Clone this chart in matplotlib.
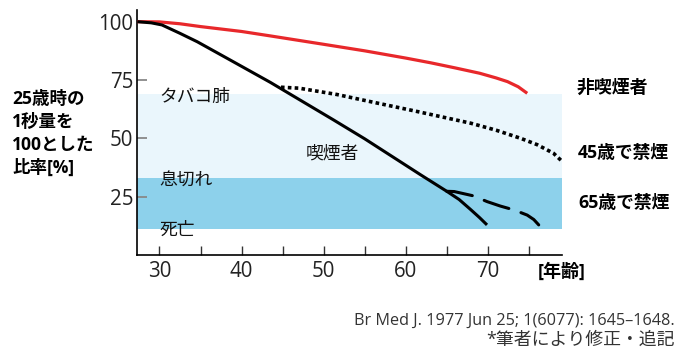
import matplotlib
matplotlib.use("Agg")
import matplotlib.pyplot as plt

# ---- data ----
nonsmoker_age = [27.3, 30, 32.5, 35, 40, 43.5, 50, 55, 60, 63, 66, 69, 71, 72.4, 73.7, 74.8]
nonsmoker_val = [100, 99.9, 99.1, 97.9, 95.8, 93.9, 90.3, 87.5, 84.4, 82.4, 80.2, 77.9, 75.9, 74.3, 72.1, 69.3]

smoker_age = [27.3, 29, 30.3, 32.5, 34.6, 38.6, 43.5, 51.2, 55, 61.8, 65, 66.5, 67.9, 69, 69.9]
smoker_val = [100, 99.5, 98.6, 95, 91.4, 83.6, 74.0, 57.9, 49.8, 34.4, 27.3, 23.8, 19.5, 16, 12.9]

quit45_age = [44.8, 47, 51.6, 56, 61.4, 67.9, 71, 74, 76, 78, 79.3]
quit45_val = [71.9, 71.5, 68.8, 65.5, 61.5, 56.5, 53.5, 50.0, 47.3, 43.6, 39.3]

quit65_age = [65, 65.9, 68.3, 69.9, 71.5, 73.2, 74.8, 75.6, 76.2]
quit65_val = [27.3, 27.2, 25.3, 22.9, 21.0, 19.3, 17.1, 15.2, 12.9]

band_light = (33, 69)
band_dark = (11, 33)

xticks_major = [30, 40, 50, 60, 70]
xticks_minor = [35, 45, 55, 65, 75]
yticks = [25, 50, 75, 100]

JP = ['Noto Sans CJK JP', 'DejaVu Sans']
NUM = ['Open Sans', 'Noto Sans CJK JP', 'DejaVu Sans']
plt.rcParams['font.family'] = NUM

fig = plt.figure(figsize=(6.77, 3.51), dpi=100)
ax = fig.add_axes([0.2028, 0.2735, 0.6269, 0.698])
ax.set_xlim(27.3, 79.0)
ax.set_ylim(0, 105)

ax.axhspan(band_light[0], band_light[1], color='#EAF6FC', lw=0, zorder=0)
ax.axhspan(band_dark[0], band_dark[1], color='#8DD1EB', lw=0, zorder=0)

ax.plot(nonsmoker_age, nonsmoker_val, color='#E8282B', lw=2.3, solid_capstyle='butt', zorder=3)
ax.plot(smoker_age, smoker_val, color='black', lw=2.2, solid_capstyle='butt', zorder=3)
ax.plot(quit45_age, quit45_val, color='black', lw=2.6, linestyle=(0, (1, 0.9)),
        dash_capstyle='butt', zorder=3)
ax.plot(quit65_age, quit65_val, color='black', lw=2.2, linestyle=(0, (8.5, 4.2)),
        dash_capstyle='round', zorder=3)

for s in ['top', 'right']:
    ax.spines[s].set_visible(False)
for s in ['left', 'bottom']:
    ax.spines[s].set_linewidth(1.2)
    ax.spines[s].set_color('black')

ax.set_xticks(xticks_major)
ax.set_xticks(xticks_minor, minor=True)
ax.set_xticklabels([str(v) for v in xticks_major])
ax.set_yticks(yticks)
ax.set_yticklabels([str(v) for v in yticks])
ax.tick_params(axis='x', which='both', direction='in', length=6.5, width=1.0,
               color='#333333', labelsize=14.8, labelcolor='#222222', pad=4.5)
ax.tick_params(axis='y', direction='in', length=7, width=1.3,
               color='#888888', labelsize=14.8, labelcolor='#222222', pad=3)

# in-plot labels
ax.text(30.0, 67.7, 'タバコ肺', family=JP, fontsize=12.8, va='center', ha='left', color='#111111')
ax.text(30.0, 32.1, '息切れ', family=JP, fontsize=12.8, va='center', ha='left', color='#111111')
ax.text(30.0, 10.7, '死亡', family=JP, fontsize=12.8, va='center', ha='left', color='#111111')
ax.text(47.8, 43.7, '喫煙者', family=JP, fontsize=12.8, va='center', ha='left', color='#111111')

# outside labels
fig.text(12 / 677, 1 - 133.5 / 351, '25歳時の\n1秒量を\n100とした\n比率[%]', family=NUM,
         fontsize=12.6, fontweight='bold', va='center', ha='left', linespacing=1.35)
fig.text(577 / 677, 1 - 87.3 / 351, '非喫煙者', family=JP, fontsize=12.9, fontweight='bold',
         va='center', ha='left')
fig.text(578 / 677, 1 - 153.3 / 351, '45歳で禁煙', family=NUM, fontsize=12.8, fontweight='bold',
         va='center', ha='left')
fig.text(578 / 677, 1 - 203.3 / 351, '65歳で禁煙', family=NUM, fontsize=12.8, fontweight='bold',
         va='center', ha='left')
fig.text(538 / 677, 1 - 272 / 351, '[年齢]', family=NUM, fontsize=13, fontweight='bold',
         va='center', ha='left')

fig.text(675 / 677, 1 - 320.7 / 351, 'Br Med J. 1977 Jun 25; 1(6077): 1645\u20131648.',
         family=NUM, fontsize=11.7, va='center', ha='right', color='#333333')
fig.text(675 / 677, 1 - 340 / 351, '*筆者により修正・追記', family=NUM, fontsize=12.9,
         va='center', ha='right', color='#333333')

fig.savefig('out.png', dpi=100)
